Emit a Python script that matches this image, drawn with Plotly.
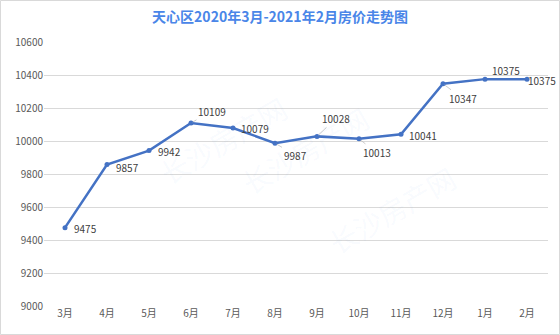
import plotly.graph_objects as go

months = ["3月", "4月", "5月", "6月", "7月", "8月", "9月", "10月", "11月", "12月", "1月", "2月"]
prices = [9475, 9857, 9942, 10109, 10079, 9987, 10028, 10013, 10041, 10347, 10375, 10375]
# label offsets in pixels (dx, dy; dy downward) and whether to draw a leader line
label_dx = [20, 20, 20, 21, 22, 20, 19, 18, 22, 20, 21, 15]
label_dy = [1, 3, 1, -12, 1, 12, -18, 14, 1, 15, -9, 1]
leader = [False, False, False, True, False, True, True, True, False, True, False, False]

W, H = 560, 335
L, R, T, B = 44, 12, 42, 29
pw, ph = W - L - R, H - T - B

fig = go.Figure()
fig.add_trace(go.Scatter(
    x=months, y=prices, mode="lines+markers",
    line=dict(color="#4472C4", width=2.5),
    marker=dict(color="#4472C4", size=5),
    hoverinfo="skip", showlegend=False,
))

annotations = []
for m, p, dx, dy, ld in zip(months, prices, label_dx, label_dy, leader):
    annotations.append(dict(
        x=m, y=p, xref="x", yref="y", text=str(p),
        showarrow=True, arrowhead=0, arrowwidth=0.8,
        arrowcolor="#BFBFBF" if ld else "rgba(0,0,0,0)",
        ax=dx, ay=dy, standoff=2,
        font=dict(family="Noto Sans CJK SC", size=10, color="#404040"),
    ))

# watermarks
for (px, py) in [(150, 140), (305, 150), (465, 210)]:
    annotations.append(dict(
        x=(px - L) / pw, y=(H - B - py) / ph, xref="paper", yref="paper",
        text="长沙房产网", showarrow=False, textangle=-30,
        font=dict(family="Noto Sans CJK SC", size=28, color="rgba(74,134,232,0.05)"),
    ))

fig.update_layout(
    width=W, height=H,
    margin=dict(l=L, r=R, t=T, b=B),
    paper_bgcolor="white", plot_bgcolor="white",
    title=dict(text="<b>天心区2020年3月-2021年2月房价走势图</b>", x=0.5, xanchor="center",
               y=1 - 17 / H, yanchor="middle",
               font=dict(family="Noto Sans CJK SC", size=14, color="#4A86E8")),
    xaxis=dict(range=[-0.5, len(months) - 0.5], showgrid=False, showline=False, ticks="",
               zeroline=False,
               tickfont=dict(family="Noto Sans CJK SC", size=10, color="#595959")),
    yaxis=dict(range=[9000, 10600], dtick=200, tickformat="d", showgrid=True,
               gridcolor="#D9D9D9", gridwidth=1, zeroline=False, showline=False, ticks="",
               tickfont=dict(family="Noto Sans CJK SC", size=10, color="#595959")),
    annotations=annotations,
    shapes=[dict(type="rect", xref="paper", yref="paper",
                 x0=(0.5 - L) / pw, x1=(W - 0.5 - L) / pw,
                 y0=-(B - 0.5) / ph, y1=(H - B - 0.5) / ph,
                 line=dict(color="#D9D9D9", width=1), layer="below")],
)

fig.write_html("out.html")
